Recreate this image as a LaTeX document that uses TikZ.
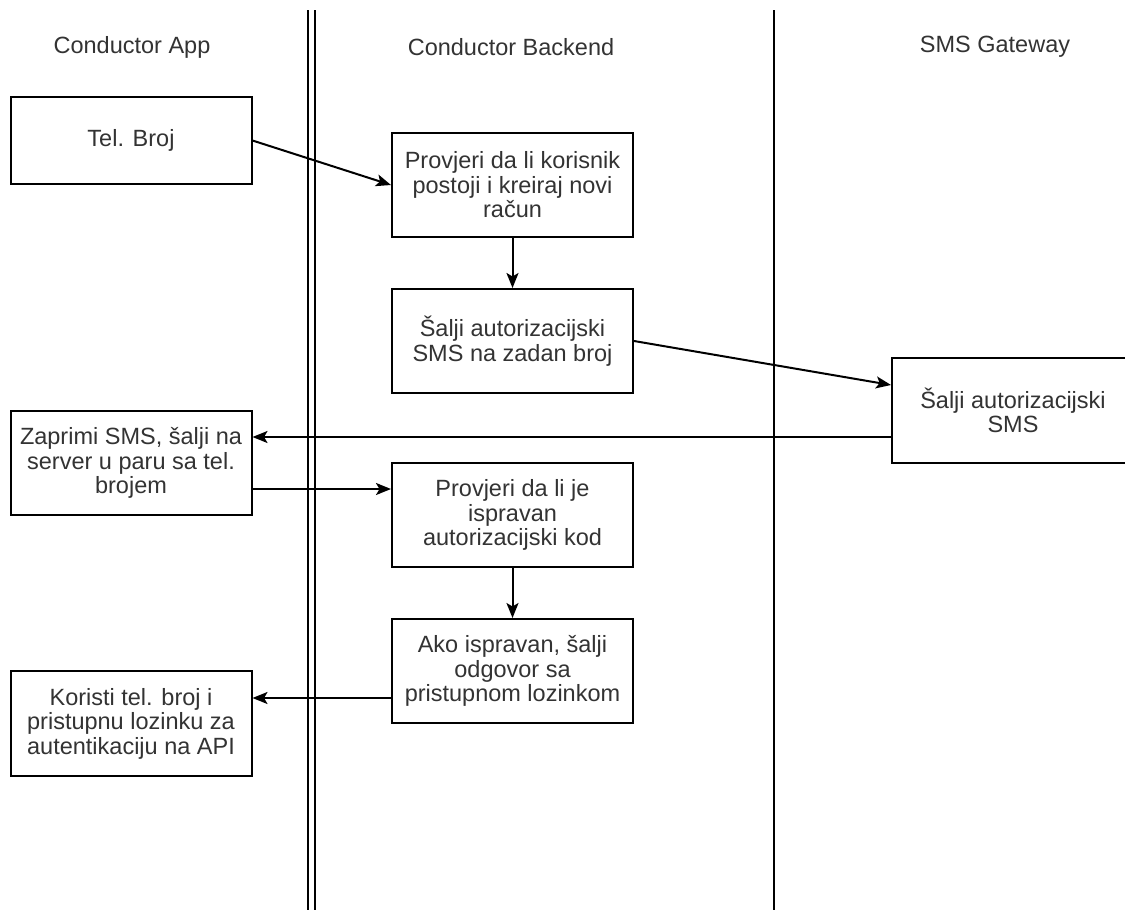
\documentclass[tikz,border=0pt]{standalone}
\usepackage{fontspec}
\setmainfont{Liberation Sans}
\usetikzlibrary{arrows.meta,calc}
\definecolor{txt}{HTML}{333333}
\begin{document}
\begin{tikzpicture}[x=1pt,y=-1pt,
  every node/.style={font=\fontsize{23.5}{24.5}\selectfont, text=txt},
  box/.style={draw=black, line width=2pt, fill=white, minimum width=241pt, minimum height=104pt, align=center, inner sep=0pt},
  lane/.style={draw=black, line width=2pt},
  arr/.style={draw=black, line width=2pt, -{Stealth[length=15pt,width=12pt,inset=3.5pt]}},
  hdr/.style={align=center}
]
\useasboundingbox[fill=white] (0,0) rectangle (1125,910);
% lanes
\coordinate (l1t) at (308,10); \coordinate (l1b) at (308,910);
\coordinate (l2t) at (315,10); \coordinate (l2b) at (315,910);
\coordinate (l3t) at (774,10); \coordinate (l3b) at (774,910);
\draw[lane] (l1t) -- (l1b);
\draw[lane] (l2t) -- (l2b);
\draw[lane] (l3t) -- (l3b);
% headers
\node[hdr] (h1) at (132,47) {Conductor App};
\node[hdr] (h2) at (511,47) {Conductor Backend};
\node[hdr] (h3) at (995,47) {SMS Gateway};
% boxes
\node[box, minimum height=87pt] (tel) at (131,140.5) {Tel. Broj};
\node[box] (prov1) at (512.5,185) {Provjeri da li korisnik\\postoji i kreiraj novi\\račun};
\node[box] (salji1) at (512.5,341) {Šalji autorizacijski\\SMS na zadan broj};
\node[box, minimum width=242pt, minimum height=105pt] (sms) at (1013,410.5) {Šalji autorizacijski\\SMS};
\node[box] (zaprimi) at (131,463) {Zaprimi SMS, šalji na\\server u paru sa tel.\\brojem};
\node[box] (prov2) at (512.5,515) {Provjeri da li je\\ispravan\\autorizacijski kod};
\node[box] (ako) at (512.5,671) {Ako ispravan, šalji\\odgovor sa\\pristupnom lozinkom};
\node[box, minimum height=105pt] (koristi) at (131,723.5) {Koristi tel. broj i\\pristupnu lozinku za\\autentikaciju na API};
% connectors
\draw[arr] (tel.east) -- (prov1.west);
\draw[arr] (prov1.south) -- (salji1.north);
\draw[arr] (salji1.east) -- ([yshift=25.5pt]sms.west);
\draw[arr] ([yshift=-26.5pt]sms.west) -- ([yshift=-26.5pt]sms.west -| zaprimi.east);
\draw[arr] ([yshift=-26pt]zaprimi.east) -- ([yshift=-26pt]zaprimi.east -| prov2.west);
\draw[arr] (prov2.south) -- (ako.north);
\draw[arr] ([yshift=-27pt]ako.west) -- ([yshift=-27pt]ako.west -| koristi.east);
\end{tikzpicture}
\end{document}
